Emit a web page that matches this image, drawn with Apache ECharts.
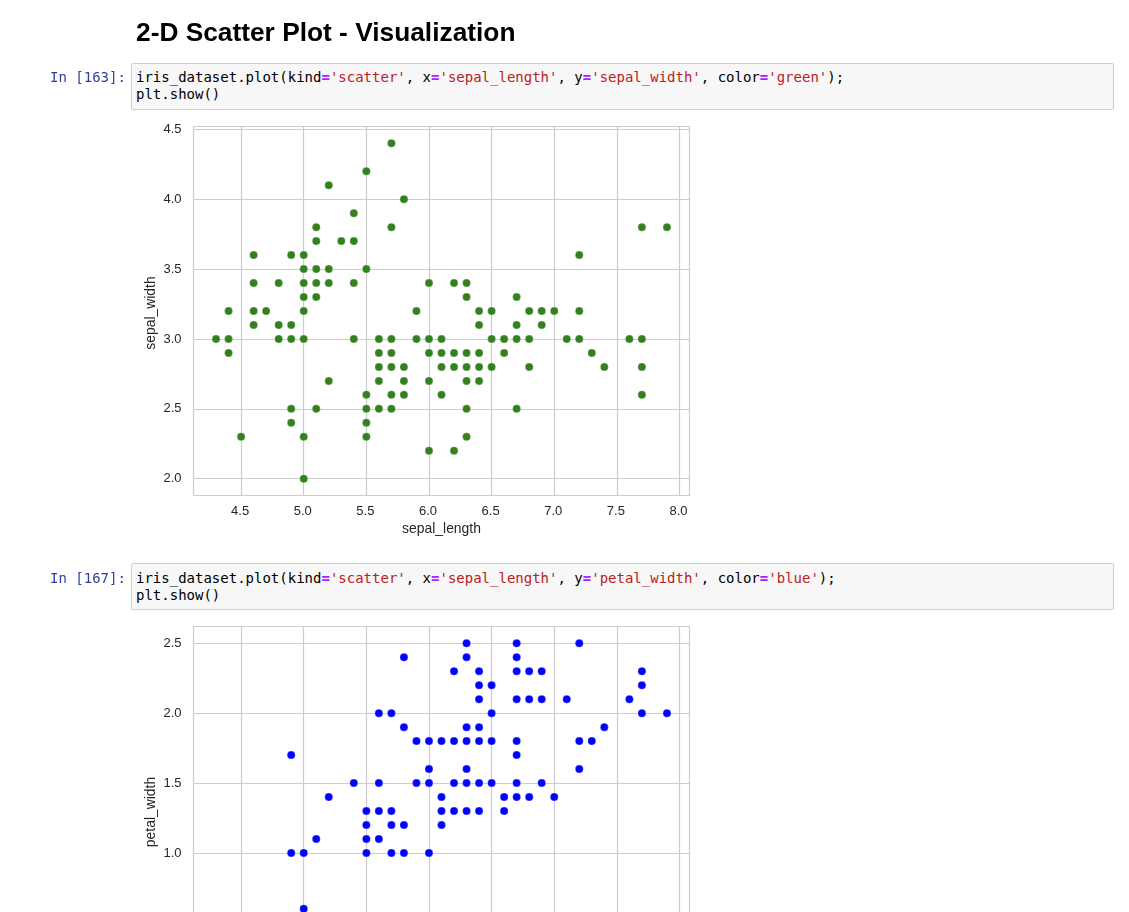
<!DOCTYPE html>
<html>
<head>
<meta charset="utf-8">
<script src="https://cdn.jsdelivr.net/npm/echarts@6/dist/echarts.min.js"></script>
<style>
html,body{margin:0;padding:0;background:#fff;width:1129px;height:912px;overflow:hidden}
#chart{position:absolute;left:0;top:0;width:1129px;height:1060px}
.title{position:absolute;left:136px;top:17px;font:bold 26.3px "Liberation Sans",Arial,sans-serif;color:#000;white-space:nowrap}
.prompt{position:absolute;left:50px;font:14px/17px "DejaVu Sans Mono",monospace;color:#303f9f;white-space:pre}
.cell{position:absolute;left:131px;width:981px;height:45px;background:#f7f7f7;border:1px solid #cfcfcf;border-radius:2px}
.code{position:absolute;left:136px;font:14px/17px "DejaVu Sans Mono",monospace;color:#000;white-space:pre}
.o{color:#aa22ff;font-weight:bold}.s{color:#ba2121}
</style>
</head>
<body>
<div id="chart"></div>
<div class="title">2-D Scatter Plot - Visualization</div>
<div class="prompt" style="top:69px">In [163]:</div>
<div class="cell" style="top:63px"></div>
<div class="code" style="top:69px">iris_dataset.plot(kind<span class="o">=</span><span class="s">'scatter'</span>, x<span class="o">=</span><span class="s">'sepal_length'</span>, y<span class="o">=</span><span class="s">'sepal_width'</span>, color<span class="o">=</span><span class="s">'green'</span>);
plt.show()</div>
<div class="prompt" style="top:570px">In [167]:</div>
<div class="cell" style="top:563px"></div>
<div class="code" style="top:570px">iris_dataset.plot(kind<span class="o">=</span><span class="s">'scatter'</span>, x<span class="o">=</span><span class="s">'sepal_length'</span>, y<span class="o">=</span><span class="s">'petal_width'</span>, color<span class="o">=</span><span class="s">'blue'</span>);
plt.show()</div>
<script>
// Each row: [y value, [x values at that y]]
const sepalWidthRows = [
  [4.4,[5.7]],[4.2,[5.5]],[4.1,[5.2]],[4.0,[5.8]],[3.9,[5.4]],
  [3.8,[5.1,5.7,7.7,7.9]],[3.7,[5.1,5.3,5.4]],[3.6,[4.6,4.9,5.0,7.2]],
  [3.5,[5.0,5.1,5.2,5.5]],[3.4,[4.6,4.8,5.0,5.1,5.2,5.4,6.0,6.2,6.3]],
  [3.3,[5.0,5.1,6.3,6.7]],[3.2,[4.4,4.6,4.7,5.0,5.9,6.4,6.5,6.8,6.9,7.0,7.2]],
  [3.1,[4.6,4.8,4.9,6.4,6.7,6.9]],
  [3.0,[4.3,4.4,4.8,4.9,5.0,5.4,5.6,5.7,5.9,6.0,6.1,6.5,6.6,6.7,6.8,7.1,7.2,7.6,7.7]],
  [2.9,[4.4,5.6,5.7,6.0,6.1,6.2,6.3,6.4,6.6,7.3]],
  [2.8,[5.6,5.7,5.8,6.1,6.2,6.3,6.4,6.5,6.8,7.4,7.7]],
  [2.7,[5.2,5.6,5.8,6.0,6.3,6.4]],[2.6,[5.5,5.7,5.8,6.1,7.7]],
  [2.5,[4.9,5.1,5.5,5.6,5.7,6.3,6.7]],[2.4,[4.9,5.5]],[2.3,[4.5,5.0,5.5,6.3]],
  [2.2,[6.0,6.2]],[2.0,[5.0]]
];
const petalWidthRows = [
  [2.5,[6.3,6.7,7.2]],[2.4,[5.8,6.3,6.7]],[2.3,[6.2,6.4,6.7,6.8,6.9,7.7]],
  [2.2,[6.4,6.5,7.7]],[2.1,[6.4,6.7,6.8,6.9,7.1,7.6]],[2.0,[5.6,5.7,6.5,7.7,7.9]],
  [1.9,[5.8,6.3,6.4,7.4]],[1.8,[5.9,6.0,6.1,6.2,6.3,6.4,6.5,6.7,7.2,7.3]],
  [1.7,[4.9,6.7]],[1.6,[6.0,6.3,7.2]],[1.5,[5.4,5.6,5.9,6.0,6.2,6.3,6.4,6.5,6.7,6.9]],
  [1.4,[5.2,6.1,6.6,6.7,6.8,7.0]],[1.3,[5.5,5.6,5.7,6.1,6.2,6.3,6.4,6.6]],
  [1.2,[5.5,5.7,5.8,6.1]],[1.1,[5.1,5.5,5.6]],[1.0,[4.9,5.0,5.5,5.7,5.8,6.0]],
  [0.6,[5.0]]
];
const sepalLengthRange = [4.12, 8.08];
const sepalWidthRange = [1.88, 4.52];
const petalWidthRange = [-0.02, 2.62];
const sepalLengthTicks = [4.5,5.0,5.5,6.0,6.5,7.0,7.5,8.0];
const sepalWidthTicks = [2.0,2.5,3.0,3.5,4.0,4.5];
const petalWidthTicks = [0.0,0.5,1.0,1.5,2.0,2.5];
const axisTitles = ['sepal_length','sepal_width','petal_width'];
const colours = ['#33801f','#0000ff'];

const toPoints = rows => rows.flatMap(([y,xs]) => xs.map(x => [x,y]));
const TXT = '#262626', GR = '#cccccc', FONT = '"Liberation Sans",Arial,sans-serif';
const axis = (i,r,ticks,name,nameGap,margin,labelPad,namePad) => ({
  type:'value', gridIndex:i, min:r[0], max:r[1],
  name, nameLocation:'middle', nameGap,
  nameTextStyle:{color:TXT,fontSize:13.9,fontFamily:FONT,padding:namePad},
  axisLine:{show:false},
  axisTick:{show:false,customValues:ticks},
  splitLine:{show:true,lineStyle:{color:GR,width:1.2}},
  axisLabel:{color:TXT,fontSize:13,fontFamily:FONT,margin,customValues:ticks,padding:labelPad,
    formatter:v=>Number(v).toFixed(1)}
});
const series = (i,rows,c) => ({
  type:'scatter', xAxisIndex:i, yAxisIndex:i, data:toPoints(rows), symbolSize:8,
  itemStyle:{color:c,opacity:1,borderColor:'#ffffff',borderWidth:0.25}, silent:true, animation:false
});
const chart = echarts.init(document.getElementById('chart'),null,{renderer:'canvas'});
chart.setOption({
  animation:false, backgroundColor:'#fff',
  grid:[
    {left:193.5,top:126.5,width:496,height:369,show:true,borderColor:GR,borderWidth:1.2,containLabel:false,outerBoundsMode:'none'},
    {left:193.5,top:626.5,width:496,height:369,show:true,borderColor:GR,borderWidth:1.2,containLabel:false,outerBoundsMode:'none'}
  ],
  xAxis:[0,1].map(i=>axis(i,sepalLengthRange,sepalLengthTicks,axisTitles[0],27,9,[0,2,0,0],0)),
  yAxis:[
    axis(0,sepalWidthRange,sepalWidthTicks,axisTitles[1],35,12,[3,0,0,0],[0,4,0,0]),
    axis(1,petalWidthRange,petalWidthTicks,axisTitles[2],35,12,[3,0,0,0],[0,2,0,0])
  ],
  series:[series(0,sepalWidthRows,colours[0]),series(1,petalWidthRows,colours[1])]
});
</script>
</body>
</html>
